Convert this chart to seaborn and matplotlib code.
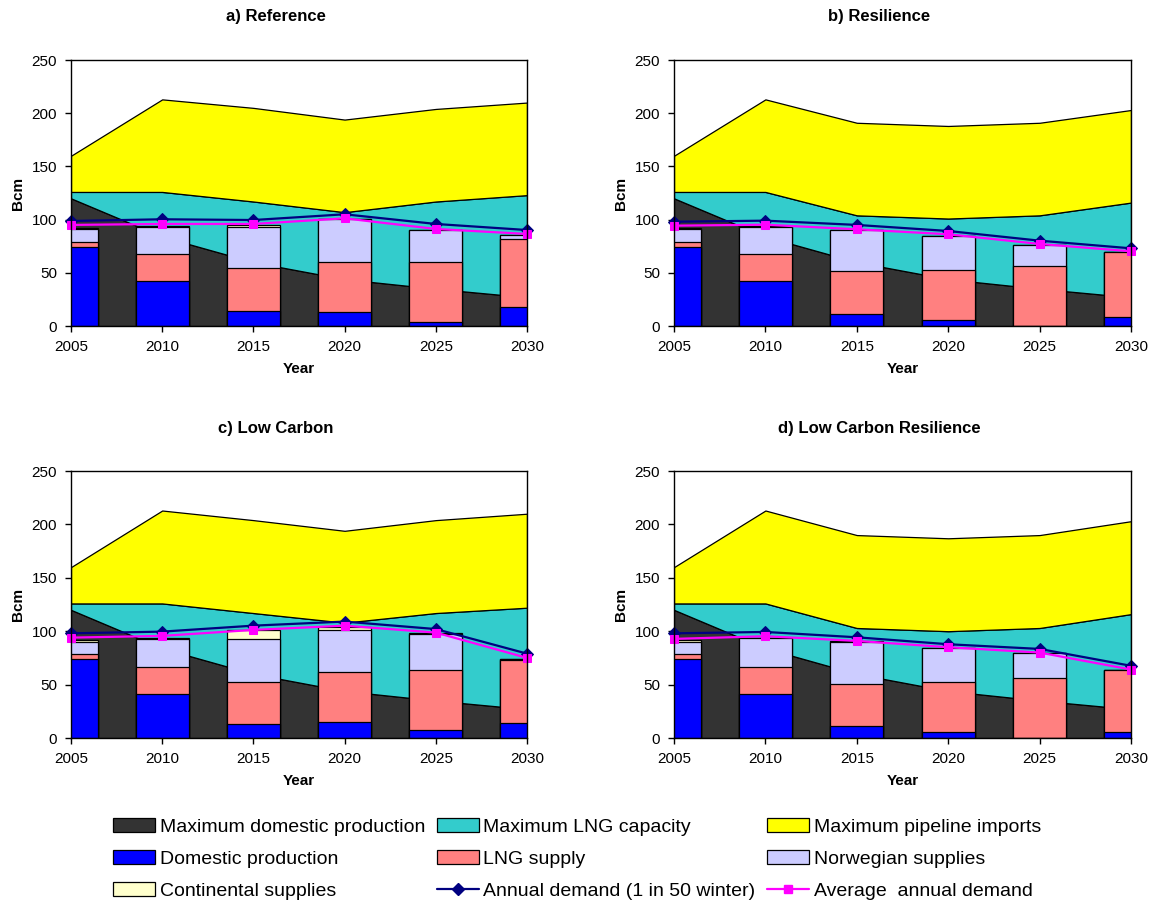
import matplotlib
matplotlib.use("Agg")
import matplotlib.pyplot as plt
import seaborn as sns
from matplotlib.patches import Patch
from matplotlib.lines import Line2D

sns.set_style("ticks")
plt.rcParams['font.family'] = ['Liberation Sans', 'DejaVu Sans']
plt.rcParams['text.color'] = 'black'
plt.rcParams['axes.labelcolor'] = 'black'
plt.rcParams['xtick.color'] = 'black'
plt.rcParams['ytick.color'] = 'black'

years = [2005, 2010, 2015, 2020, 2025, 2030]
titles = ["a) Reference", "b) Resilience", "c) Low Carbon", "d) Low Carbon Resilience"]

# max domestic production is the same in every scenario
max_domestic = [120, 84, 60, 44, 35, 27]

# Maximum LNG capacity (stacked on top of max domestic)
max_lng_a = [6, 42, 57, 63, 82, 96]
max_lng_b = [6, 42, 44, 57, 69, 89]
max_lng_c = [6, 42, 57, 64, 82, 95]
max_lng_d = [6, 42, 43, 56, 68, 89]

# Maximum pipeline imports (stacked on top of LNG)
max_pipe_a = [34, 87, 88, 87, 87, 87]
max_pipe_b = [34, 87, 87, 87, 87, 87]
max_pipe_c = [34, 87, 87, 86, 87, 88]
max_pipe_d = [34, 87, 87, 87, 87, 87]

# supply bars
dom_prod_a = [74.6, 42, 14.1, 12.8, 3.8, 18.2]
dom_prod_b = [74.6, 42, 11, 5.3, 0, 8.5]
dom_prod_c = [74.4, 41.4, 13.1, 14.9, 7.8, 14]
dom_prod_d = [74.4, 41.4, 10.9, 5.3, 0, 5.3]

lng_supply_a = [4.7, 25.4, 40.1, 47, 56, 63.3]
lng_supply_b = [4, 25.4, 40.7, 47, 56.4, 60.7]
lng_supply_c = [4.4, 25.5, 39.5, 47.1, 56, 59.2]
lng_supply_d = [4.4, 25.5, 39.5, 47, 56, 58.2]

norway_a = [11.6, 26, 39.2, 40.5, 30.4, 3.7]
norway_b = [12.3, 26, 38.5, 32.6, 19.7, 0.7]
norway_c = [11.5, 25.6, 39.9, 39.2, 33.6, 1.2]
norway_d = [11.5, 26.5, 39.9, 31.7, 24, 0.3]

continental_a = [1.5, 0.5, 1.6, 0, 0, 0]
continental_b = [1.5, 0.5, 0, 0, 0, 0]
continental_c = [1.5, 1.5, 8.4, 3.1, 0.6, 0]
continental_d = [1.5, 0.5, 0.3, 0.3, 0, 0]

# demand lines
peak_demand_a = [98.7, 100.3, 99.6, 105, 95.9, 90.2]
peak_demand_b = [98, 99, 95, 89.3, 80.2, 73]
peak_demand_c = [98, 99.6, 105.2, 109, 102, 79]
peak_demand_d = [98, 99.3, 94.3, 87.8, 83.4, 67.6]

avg_demand_a = [95, 95.9, 95.9, 101.2, 91.2, 86.5]
avg_demand_b = [94.3, 95.2, 90.9, 86.2, 77.1, 70.2]
avg_demand_c = [94, 95.6, 101.2, 105.2, 98.7, 75]
avg_demand_d = [92.8, 95.3, 90.9, 85, 80, 64.1]

scenarios = [
    (max_lng_a, max_pipe_a, dom_prod_a, lng_supply_a, norway_a, continental_a, peak_demand_a, avg_demand_a),
    (max_lng_b, max_pipe_b, dom_prod_b, lng_supply_b, norway_b, continental_b, peak_demand_b, avg_demand_b),
    (max_lng_c, max_pipe_c, dom_prod_c, lng_supply_c, norway_c, continental_c, peak_demand_c, avg_demand_c),
    (max_lng_d, max_pipe_d, dom_prod_d, lng_supply_d, norway_d, continental_d, peak_demand_d, avg_demand_d),
]

c_maxdom = '#333333'
c_maxlng = '#33CCCC'
c_maxpipe = '#FFFF00'
c_dom = '#0000FF'
c_lng = '#FF8080'
c_nor = '#CCCCFF'
c_cont = '#FFFFCC'
c_peak = '#000080'
c_avg = '#FF00FF'

W, H = 1155, 905
fig = plt.figure(figsize=(W / 100, H / 100), dpi=100)

# axes boxes in pixels: left, top, right, bottom
boxes = [(71, 60, 527, 326), (674, 60, 1131, 326),
         (71, 471, 527, 738), (674, 471, 1131, 738)]

for i, (box, sc) in enumerate(zip(boxes, scenarios)):
    l, t, r, b = box
    ax = fig.add_axes([l / W, 1 - b / H, (r - l) / W, (b - t) / H])
    max_lng, max_pipe, dom, lng, nor, cont, peak, avg = sc

    # stacked capacity areas
    ax.stackplot(years, max_domestic, max_lng, max_pipe,
                 colors=[c_maxdom, c_maxlng, c_maxpipe],
                 edgecolor='black', linewidth=0.9, zorder=1)

    # stacked supply bars, drawn as cumulative totals from the top down
    s1 = dom
    s2 = [a + b2 for a, b2 in zip(s1, lng)]
    s3 = [a + b2 for a, b2 in zip(s2, nor)]
    s4 = [a + b2 for a, b2 in zip(s3, cont)]
    for vals, col in [(s4, c_cont), (s3, c_nor), (s2, c_lng), (s1, c_dom)]:
        sns.barplot(x=years, y=vals, native_scale=True, width=0.584,
                    color=col, saturation=1, edgecolor='black',
                    linewidth=0.9, errorbar=None, ax=ax, zorder=2)

    sns.lineplot(x=years, y=peak, color=c_peak, marker='D', markersize=6,
                 markeredgecolor=c_peak, linewidth=1.6, ax=ax,
                 clip_on=False, zorder=4)
    sns.lineplot(x=years, y=avg, color=c_avg, marker='s', markersize=6,
                 markeredgecolor=c_avg, linewidth=1.6, ax=ax,
                 clip_on=False, zorder=5)

    ax.set_xlim(2005, 2030)
    ax.set_ylim(0, 250)
    ax.set_xticks(years)
    ax.set_xticklabels([str(y) for y in years])
    ax.set_yticks([0, 50, 100, 150, 200, 250])
    ax.tick_params(axis='both', labelsize=11, length=4, width=1,
                   color='black', labelcolor='black', direction='out', pad=6)
    for sp in ax.spines.values():
        sp.set_color('black')
        sp.set_linewidth(1)
        sp.set_zorder(6)
    ax.set_xlabel('Year', fontsize=11, fontweight='bold', labelpad=6)
    ax.set_ylabel('Bcm', fontsize=11, fontweight='bold', labelpad=5)

    cx = (l + r) / 2 - 23
    fig.text(cx / W, 1 - (t - 43) / H, titles[i], ha='center', va='center',
             fontsize=12, fontweight='bold')

# legend (column-major order for 3 columns)
def pat(c, lab):
    return Patch(facecolor=c, edgecolor='black', linewidth=0.9, label=lab)

h_maxdom = pat(c_maxdom, 'Maximum domestic production')
h_maxlng = pat(c_maxlng, 'Maximum LNG capacity')
h_maxpipe = pat(c_maxpipe, 'Maximum pipeline imports')
h_dom = pat(c_dom, 'Domestic production')
h_lng = pat(c_lng, 'LNG supply')
h_nor = pat(c_nor, 'Norwegian supplies')
h_cont = pat(c_cont, 'Continental supplies')
h_peak = Line2D([], [], color=c_peak, marker='D', markersize=6, linewidth=1.6,
                label='Annual demand (1 in 50 winter)')
h_avg = Line2D([], [], color=c_avg, marker='s', markersize=6, linewidth=1.6,
               label='Average  annual demand')

handles = [h_maxdom, h_dom, h_cont, h_maxlng, h_lng, h_peak, h_maxpipe, h_nor, h_avg]
fig.legend(handles=handles, ncol=3, loc='upper left',
           bbox_to_anchor=(113 / W, 1 - 818 / H), frameon=False,
           fontsize=14, handlelength=2.15, handleheight=0.7,
           handletextpad=0.25, columnspacing=0.6, labelspacing=0.75,
           borderpad=0, borderaxespad=0)

fig.savefig('out.png', dpi=100)
